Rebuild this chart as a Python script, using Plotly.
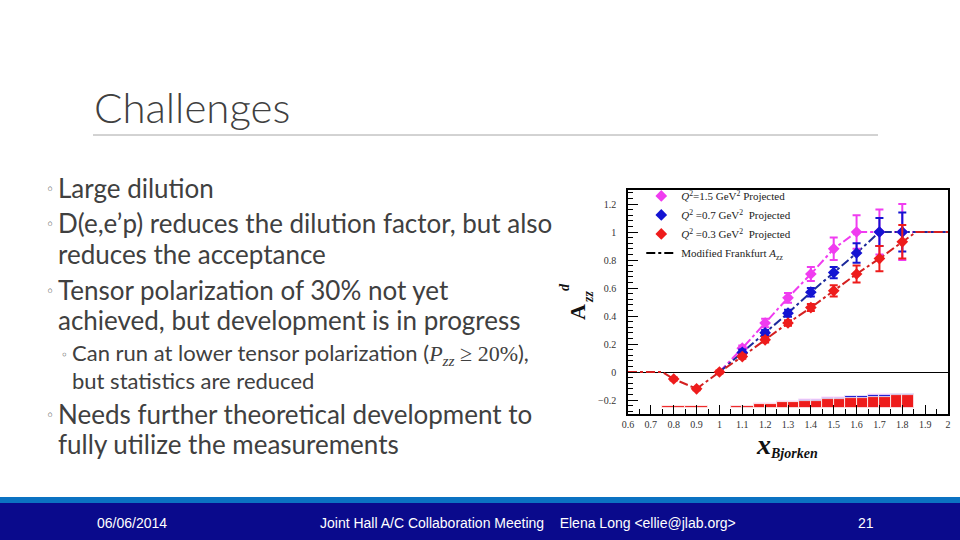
import numpy as np
import plotly.graph_objects as go

# ---------------- data ----------------
x_mag = [1.1, 1.2, 1.3, 1.4, 1.5, 1.6, 1.7, 1.8]
y_mag = [0.17, 0.35, 0.53, 0.70, 0.88, 1.00, 1.00, 1.00]
e_mag = [0.02, 0.03, 0.035, 0.05, 0.08, 0.12, 0.16, 0.20]

x_blue = [1.1, 1.2, 1.3, 1.4, 1.5, 1.6, 1.7, 1.8]
y_blue = [0.14, 0.28, 0.42, 0.57, 0.71, 0.85, 1.00, 1.00]
e_blue = [0.02, 0.02, 0.025, 0.03, 0.04, 0.07, 0.10, 0.14]

x_red = [0.8, 0.9, 1.0, 1.1, 1.2, 1.3, 1.4, 1.5, 1.6, 1.7, 1.8]
y_red = [-0.05, -0.12, 0.0, 0.11, 0.23, 0.35, 0.46, 0.58, 0.70, 0.81, 0.93]
e_red = [0.01, 0.01, 0.01, 0.015, 0.02, 0.02, 0.025, 0.04, 0.06, 0.09, 0.12]

# model curves (Modified Frankfurt A_zz)
mx_red = [0.6, 0.75, 0.8, 0.9, 1.0, 1.1, 1.2, 1.3, 1.4, 1.5, 1.6, 1.7, 1.8, 1.86, 2.0]
my_red = [0.0, 0.0, -0.05, -0.12, 0.0, 0.11, 0.23, 0.35, 0.46, 0.58, 0.70, 0.81, 0.93, 1.0, 1.0]
mx_blue = [1.0, 1.1, 1.2, 1.3, 1.4, 1.5, 1.6, 1.7, 2.0]
my_blue = [0.0, 0.14, 0.28, 0.42, 0.57, 0.71, 0.85, 1.0, 1.0]
mx_mag = [1.0, 1.1, 1.2, 1.3, 1.4, 1.5, 1.6, 2.0]
my_mag = [0.0, 0.17, 0.35, 0.53, 0.70, 0.88, 1.0, 1.0]

# systematic bands (top edge; common base)
band_base = -0.255
bx_red = [0.8, 0.9, 1.1, 1.2, 1.3, 1.4, 1.5, 1.6, 1.7, 1.8]
bt_red = [-0.242, -0.242, -0.240, -0.228, -0.216, -0.205, -0.195, -0.185, -0.175, -0.165]
bx_blue = [1.1, 1.2, 1.3, 1.4, 1.5, 1.6, 1.7, 1.8]
bt_blue = [-0.240, -0.226, -0.213, -0.200, -0.186, -0.173, -0.162, -0.155]
bx_mag = [1.1, 1.2, 1.3, 1.4, 1.5, 1.6, 1.7, 1.8]
bt_mag = [-0.240, -0.224, -0.209, -0.195, -0.181, -0.170, -0.160, -0.154]

legend_names = [
    "<i>Q</i><sup>2</sup>=1.5 GeV<sup>2</sup> Projected",
    "<i>Q</i><sup>2</sup> =0.7 GeV<sup>2</sup>  Projected",
    "<i>Q</i><sup>2</sup> =0.3 GeV<sup>2</sup>  Projected",
    "Modified Frankfurt <i>A</i><sub>zz</sub>",
]

bullets = [
    ("Large dilution", 188, 0),
    ("D(e,e\u2019p) reduces the dilution factor, but also", 223, 0),
    ("reduces the acceptance", 254, 1),
    ("Tensor polarization of 30% not yet", 290, 0),
    ("achieved, but development is in progress", 320, 1),
    ("Can run at lower tensor polarization (<span style=\"font-family:'Liberation Serif'\"><i>P</i><sub><i>zz</i></sub> \u2265 20%</span>),", 354, 2),
    ("but statistics are reduced", 380, 3),
    ("Needs further theoretical development to", 414, 0),
    ("fully utilize the measurements", 444, 1),
]

C_MAG = "#f03cf0"
C_BLUE = "#1414d2"
C_RED = "#ee1c1c"
SERIF = "Liberation Serif, Times New Roman, serif"

fig = go.Figure()

# bands (0.05-wide bins with white separators)
def band(xs, tops, color):
    xs = np.asarray(xs, float)
    tops = np.asarray(tops, float)
    xx = np.repeat(xs, 2) + np.tile([-0.025, 0.025], len(xs))
    hh = np.repeat(tops, 2) - band_base
    fig.add_trace(go.Bar(x=xx, y=hh, base=band_base, width=0.05,
                         marker=dict(color=color, line=dict(color="white", width=0.8)),
                         showlegend=False, hoverinfo="skip"))

band(bx_mag, bt_mag, C_MAG)
band(bx_blue, bt_blue, C_BLUE)
band(bx_red, bt_red, C_RED)

# model curves
for mx, my, c in [(mx_mag, my_mag, C_MAG), (mx_blue, my_blue, "#1c2a9c"), (mx_red, my_red, "#d42020")]:
    fig.add_trace(go.Scatter(x=mx, y=my, mode="lines",
                             line=dict(color=c, width=2, dash="dashdot"),
                             showlegend=False, hoverinfo="skip"))

# data points
for xs, ys, es, c, name in [(x_mag, y_mag, e_mag, C_MAG, legend_names[0]),
                            (x_blue, y_blue, e_blue, C_BLUE, legend_names[1]),
                            (x_red, y_red, e_red, C_RED, legend_names[2])]:
    fig.add_trace(go.Scatter(x=xs, y=ys, mode="markers", name=name,
                             marker=dict(symbol="diamond", size=9, color=c),
                             error_y=dict(type="data", array=es, color=c, thickness=2, width=4)))

# legend entry for model
fig.add_trace(go.Scatter(x=[None], y=[None], mode="lines", name=legend_names[3],
                         line=dict(color="black", width=2, dash="dashdot")))

fig.update_layout(
    width=960, height=540, autosize=False,
    margin=dict(l=0, r=0, t=0, b=0, pad=0, autoexpand=False),
    paper_bgcolor="white", plot_bgcolor="white",
    barmode="overlay", bargap=0,
    showlegend=True,
    legend=dict(x=0.668, y=0.664, xanchor="left", yanchor="top",
                bgcolor="rgba(0,0,0,0)", font=dict(family=SERIF, size=11, color="#222"),
                itemwidth=30, tracegroupgap=0),
    xaxis=dict(domain=[628/960, 948/960], range=[0.6, 2.0], dtick=0.1, tick0=0.6,
               automargin=False,
               showgrid=False, zeroline=False, showline=True, linecolor="black", linewidth=1.5,
               mirror=True, ticks="inside", ticklen=9, tickcolor="black",
               minor=dict(dtick=0.05, ticks="inside", ticklen=5, tickcolor="black"),
               tickfont=dict(family=SERIF, size=10, color="#333")),
    yaxis=dict(domain=[1-414/540, 1-190/540], range=[-0.3, 1.3], dtick=0.2, tick0=0,
               automargin=False,
               showgrid=False, zeroline=True, zerolinecolor="black", zerolinewidth=1.2,
               showline=True, linecolor="black", linewidth=1.5,
               mirror=True, ticks="inside", ticklen=10, tickcolor="black",
               ticklabelstandoff=8,
               minor=dict(dtick=0.04, ticks="inside", ticklen=5, tickcolor="black"),
               tickfont=dict(family=SERIF, size=10, color="#333")),
)

anns = []
# title
anns.append(dict(x=92/960, y=1-107/540, xref="paper", yref="paper", xanchor="left", yanchor="middle",
                 text="Challenges", showarrow=False,
                 font=dict(family="Lato, Calibri, sans-serif", size=42, color="#404040", weight=300)))
# bullets
for txt, ypx, lvl in bullets:
    if lvl in (0, 1):
        size, xt, xb = 26, 56, 44
    else:
        size, xt, xb = 22, 70, 59
    anns.append(dict(x=xt/960, y=1-ypx/540, xref="paper", yref="paper", xanchor="left", yanchor="middle",
                     text=txt, showarrow=False,
                     font=dict(family="Lato, Calibri, sans-serif", size=size, color="#404040")))
    if lvl in (0, 2):
        anns.append(dict(x=xb/960, y=1-(ypx+1)/540, xref="paper", yref="paper", xanchor="left", yanchor="middle",
                         text="\u25e6", showarrow=False,
                         font=dict(family="DejaVu Sans, sans-serif", size=14 if lvl == 0 else 12, color="#404040")))
# axis titles
anns.append(dict(x=578/960, y=1-312/540, xref="paper", yref="paper", xanchor="center", yanchor="middle",
                 text="<b>A</b>", textangle=-90, showarrow=False,
                 font=dict(family=SERIF, size=22, color="#111")))
anns.append(dict(x=588/960, y=1-297/540, xref="paper", yref="paper", xanchor="center", yanchor="middle",
                 text="<b><i>zz</i></b>", textangle=-90, showarrow=False,
                 font=dict(family=SERIF, size=14, color="#111")))
anns.append(dict(x=564/960, y=1-287/540, xref="paper", yref="paper", xanchor="center", yanchor="middle",
                 text="<b><i>d</i></b>", textangle=-90, showarrow=False,
                 font=dict(family=SERIF, size=14, color="#111")))
anns.append(dict(x=754/960, y=1-444/540, xref="paper", yref="paper", xanchor="left", yanchor="middle",
                 text="<b><i>x</i></b>", showarrow=False,
                 font=dict(family=SERIF, size=28, color="#111")))
anns.append(dict(x=768/960, y=1-453/540, xref="paper", yref="paper", xanchor="left", yanchor="middle",
                 text="<b><i>Bjorken</i></b>", showarrow=False,
                 font=dict(family=SERIF, size=14, color="#111")))
# footer text
FOOT = "Liberation Sans Narrow, Arial Narrow, Liberation Sans, sans-serif"
for txt, xc in [("06/06/2014", 132), ("Joint Hall A/C Collaboration Meeting\u00a0\u00a0\u00a0 Elena Long &lt;ellie@jlab.org&gt;", 528), ("21", 866)]:
    anns.append(dict(x=xc/960, y=1-523/540, xref="paper", yref="paper", xanchor="center", yanchor="middle",
                     text=txt, showarrow=False, font=dict(family=FOOT, size=14, color="white")))
fig.update_layout(annotations=anns)

shapes = [
    dict(type="line", xref="paper", yref="paper", x0=93/960, x1=878/960, y0=1-135/540, y1=1-135/540,
         line=dict(color="#a6a6a6", width=1)),
    dict(type="rect", xref="paper", yref="paper", x0=-0.03, x1=1.03, y0=1-503/540, y1=1-497/540,
         line=dict(width=0), fillcolor="#0b72c2"),
    dict(type="rect", xref="paper", yref="paper", x0=-0.03, x1=1.03, y0=-0.02, y1=1-503/540,
         line=dict(width=0), fillcolor="#0a0a8c"),
]
fig.update_layout(shapes=shapes)

fig.write_html("out.html",
               config={"displayModeBar": False},
               post_script="document.documentElement.style.margin='0';"
                           "document.body.style.margin='0';document.body.style.padding='0';"
                           "document.body.style.overflow='hidden';"
                           "var d=document.getElementById('{plot_id}');"
                           "d.style.position='fixed';d.style.left='0px';d.style.top='0px';")
